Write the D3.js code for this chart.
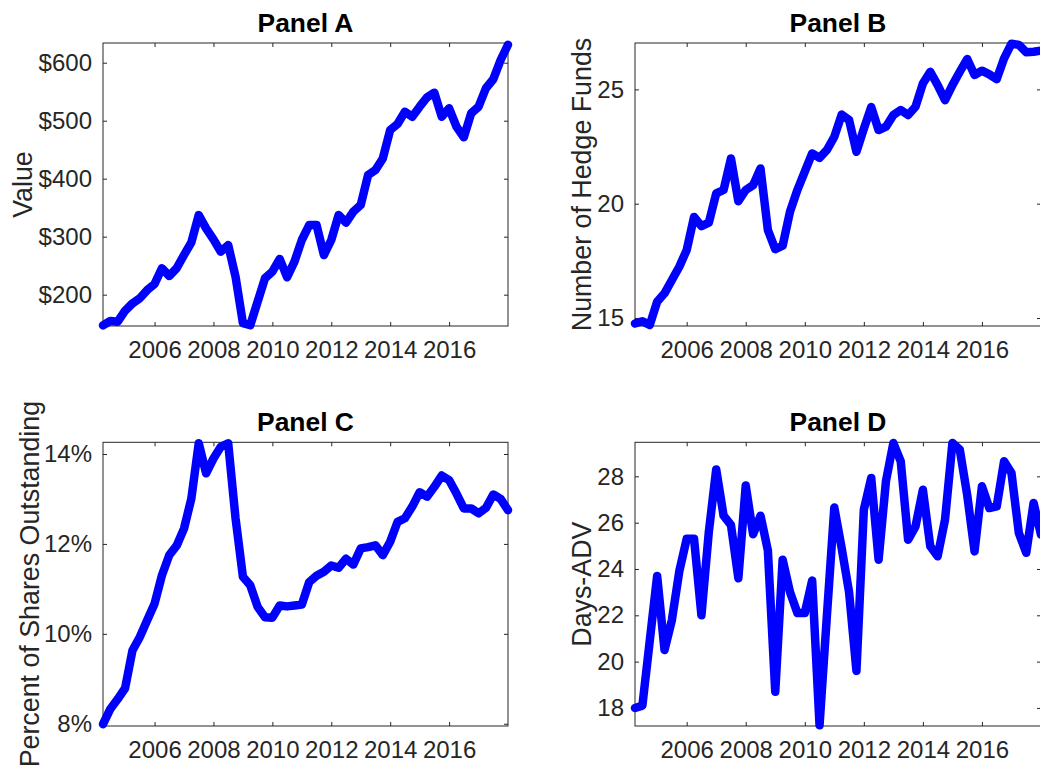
<!DOCTYPE html>
<html>
<head>
<meta charset="utf-8">
<script src="https://cdn.jsdelivr.net/npm/d3@7"></script>
<style>
  html, body { margin: 0; padding: 0; background: #fff; }
  svg { display: block; font-family: "Liberation Sans", Arial, Helvetica, sans-serif; }
</style>
</head>
<body>
<svg id="chart" width="1040" height="769"></svg>
<script>
// Quarter-end dates as decimal years (2004Q1 .. 2017Q4)
const dates = [2004.25, 2004.5, 2004.75, 2005.0, 2005.25, 2005.5, 2005.75, 2006.0,
  2006.25, 2006.5, 2006.75, 2007.0, 2007.25, 2007.5, 2007.75, 2008.0,
  2008.25, 2008.5, 2008.75, 2009.0, 2009.25, 2009.5, 2009.75, 2010.0,
  2010.25, 2010.5, 2010.75, 2011.0, 2011.25, 2011.5, 2011.75, 2012.0,
  2012.25, 2012.5, 2012.75, 2013.0, 2013.25, 2013.5, 2013.75, 2014.0,
  2014.25, 2014.5, 2014.75, 2015.0, 2015.25, 2015.5, 2015.75, 2016.0,
  2016.25, 2016.5, 2016.75, 2017.0, 2017.25, 2017.5, 2017.75, 2018.0];

const xTicks = [2006, 2008, 2010, 2012, 2014, 2016];

// Panel A: Value ($)
const valueA = [147, 154.7, 153.5, 172.4, 185, 193.8, 208, 218.4, 245.5, 232.2,
  245.5, 268.4, 290.3, 337.4, 314.4, 295.5, 274.1, 285.6, 231, 151,
  147.5, 188, 228.3, 239.7, 261.6, 230, 257, 294.3, 320, 320,
  268.4, 294.3, 337.4, 324.2, 343.2, 354.7, 406.4, 415, 435, 484,
  494.3, 515.5, 506.9, 524.1, 540.3, 548.3, 506.9, 521.4, 489.7, 471.4,
  512.8, 524.1, 555.9, 571.4, 604.7, 631];
const ticksA = [200, 300, 400, 500, 600];
const domainA = [146, 634];

// Panel B: Number of Hedge Funds
const valueB = [14.76, 14.86, 14.69, 15.71, 16.08, 16.66, 17.24, 17.97, 19.42, 19.02,
  19.17, 20.45, 20.6, 21.98, 20.11, 20.6, 20.81, 21.54, 18.85, 18.01,
  18.16, 19.65, 20.6, 21.4, 22.2, 22.0, 22.35, 22.93, 23.9, 23.66,
  22.27, 23.28, 24.23, 23.22, 23.37, 23.88, 24.1, 23.88, 24.24, 25.26,
  25.77, 25.19, 24.53, 25.19, 25.77, 26.33, 25.63, 25.82, 25.66, 25.45,
  26.36, 27.0, 26.95, 26.63, 26.65, 26.7];
const ticksB = [15, 20, 25];
const domainB = [14.65, 27.03];

// Panel C: Percent of Shares Outstanding
const valueC = [7.99, 8.33, 8.55, 8.79, 9.63, 9.93, 10.3, 10.67, 11.3, 11.75,
  11.96, 12.34, 13.01, 14.24, 13.57, 13.9, 14.16, 14.24, 12.57, 11.27,
  11.08, 10.6, 10.37, 10.36, 10.63, 10.61, 10.63, 10.65, 11.15, 11.29,
  11.38, 11.52, 11.47, 11.67, 11.54, 11.9, 11.93, 11.97, 11.75, 12.05,
  12.49, 12.57, 12.83, 13.15, 13.05, 13.27, 13.52, 13.42, 13.12, 12.79,
  12.79, 12.68, 12.8, 13.1, 13.0, 12.75];
const ticksC = [8, 10, 12, 14];
const domainC = [7.95, 14.26];

// Panel D: Days-ADV
const valueD = [18.0, 18.1, 20.9, 23.7, 20.5, 21.8, 23.9, 25.3, 25.3, 22.0,
  25.6, 28.3, 26.3, 25.9, 23.6, 27.6, 25.5, 26.3, 24.8, 18.7,
  24.4, 23.0, 22.1, 22.1, 23.5, 17.25, 22.0, 26.65, 24.9, 23.0,
  19.6, 26.56, 27.93, 24.4, 27.8, 29.44, 28.65, 25.26, 25.84, 27.42,
  24.98, 24.55, 26.13, 29.44, 29.15, 27.2, 24.76, 27.57, 26.63, 26.7,
  28.65, 28.14, 25.55, 24.7, 26.85, 25.48];
const ticksD = [18, 20, 22, 24, 26, 28];
const domainD = [17.22, 29.47];

const titles = ["Panel A", "Panel B", "Panel C", "Panel D"];
const yLabels = ["Value", "Number of Hedge Funds", "Percent of Shares Outstanding", "Days-ADV"];

const AXIS_COLOR = "#262626";
const TICK_FONT = 24;
const LABEL_FONT = 26.8;

const panels = [
  { values: valueA, ticks: ticksA, domain: domainA, fmt: d => "$" + d,
    box: { x: 103, y: 43, w: 405, h: 283 }, labelOff: 71 },
  { values: valueB, ticks: ticksB, domain: domainB, fmt: d => String(d),
    box: { x: 635, y: 43, w: 406, h: 283 }, labelOff: 44 },
  { values: valueC, ticks: ticksC, domain: domainC, fmt: d => d + "%",
    box: { x: 103, y: 442.3, w: 405, h: 283.7 }, labelOff: 64 },
  { values: valueD, ticks: ticksD, domain: domainD, fmt: d => String(d),
    box: { x: 635, y: 442.3, w: 406, h: 283.7 }, labelOff: 44.5 }
];

const svg = d3.select("#chart");

panels.forEach((p, k) => {
  const b = p.box;
  const g = svg.append("g").attr("transform", `translate(${b.x},${b.y})`);
  const x = d3.scaleLinear().domain([dates[0], dates[dates.length - 1]]).range([0, b.w]);
  const y = d3.scaleLinear().domain(p.domain).range([b.h, 0]);

  // bottom axis (inward ticks)
  const ax = g.append("g").attr("transform", `translate(0,${b.h})`)
    .call(d3.axisBottom(x).tickValues(xTicks).tickFormat(d3.format("d"))
      .tickSizeInner(-4).tickSizeOuter(0).tickPadding(15));
  // top axis ticks
  const axT = g.append("g")
    .call(d3.axisTop(x).tickValues(xTicks).tickFormat("")
      .tickSizeInner(-4).tickSizeOuter(0));
  // left axis
  const ay = g.append("g")
    .call(d3.axisLeft(y).tickValues(p.ticks).tickFormat(p.fmt)
      .tickSizeInner(-4).tickSizeOuter(0).tickPadding(11));
  // right axis ticks
  const ayR = g.append("g").attr("transform", `translate(${b.w},0)`)
    .call(d3.axisRight(y).tickValues(p.ticks).tickFormat("")
      .tickSizeInner(-4).tickSizeOuter(0));

  [ax, axT, ay, ayR].forEach(a => {
    a.select(".domain").remove();
    a.selectAll(".tick line").attr("stroke", AXIS_COLOR).attr("stroke-width", 1);
    a.selectAll(".tick text").attr("fill", AXIS_COLOR)
      .style("font-size", TICK_FONT + "px")
      .style("font-family", '"Liberation Sans", Arial, Helvetica, sans-serif');
  });

  // box
  g.append("rect").attr("x", 0).attr("y", 0).attr("width", b.w).attr("height", b.h)
    .attr("fill", "none").attr("stroke", AXIS_COLOR).attr("stroke-width", 1);

  // line
  const line = d3.line().x((d, i) => x(dates[i])).y(d => y(d));
  g.append("path").datum(p.values)
    .attr("d", line)
    .attr("fill", "none")
    .attr("stroke", "#0000ff")
    .attr("stroke-width", 8.5)
    .attr("stroke-linejoin", "round")
    .attr("stroke-linecap", "round");

  // title
  g.append("text")
    .attr("x", b.w / 2).attr("y", -11.5)
    .attr("text-anchor", "middle")
    .attr("font-weight", "bold")
    .attr("fill", "#000")
    .style("font-size", "26.4px")
    .text(titles[k]);

  // y label
  g.append("text")
    .attr("transform", `translate(${-p.labelOff},${b.h / 2}) rotate(-90)`)
    .attr("text-anchor", "middle")
    .attr("fill", AXIS_COLOR)
    .style("font-size", LABEL_FONT + "px")
    .text(yLabels[k]);
});
</script>
</body>
</html>
